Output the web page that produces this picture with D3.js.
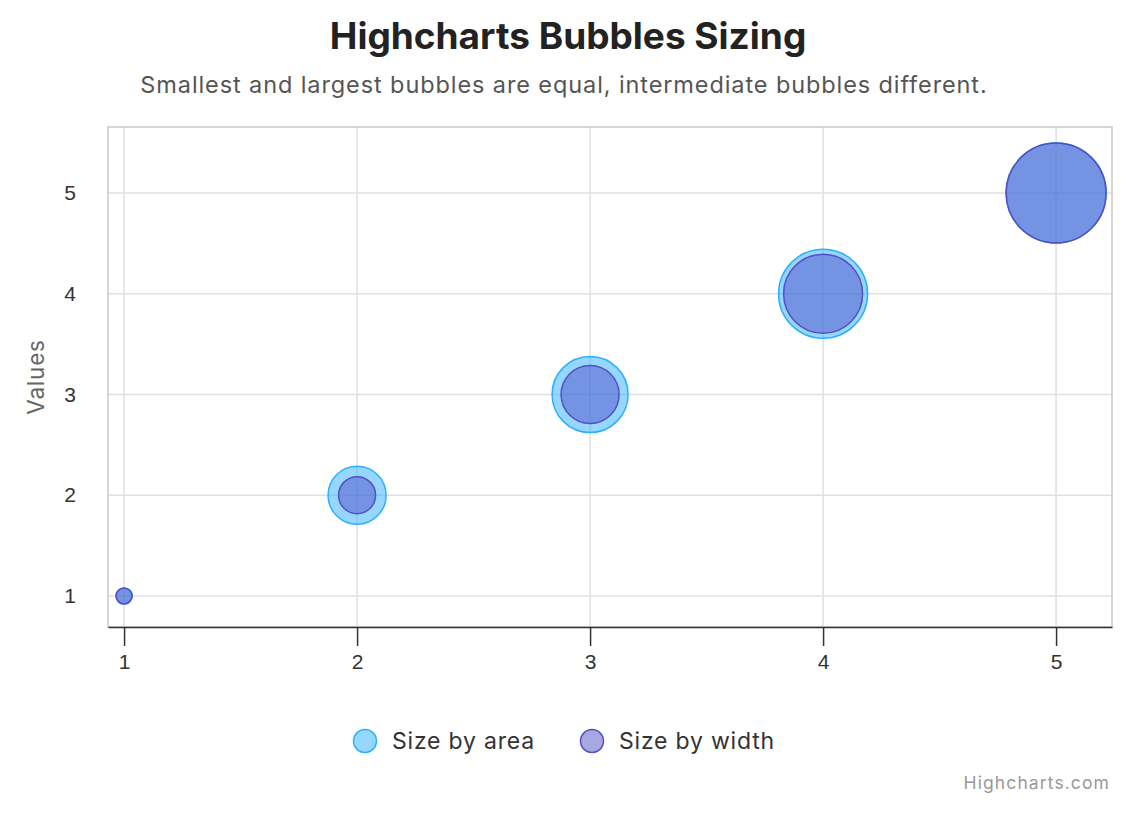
<!DOCTYPE html>
<html>
<head>
<meta charset="utf-8">
<script src="https://cdn.jsdelivr.net/npm/d3@7"></script>
<style>
  body { margin: 0; background: #fff; }
  svg { font-family: Inter, "Noto Sans", sans-serif; }
</style>
</head>
<body>
<svg id="chart" width="1134" height="818"></svg>
<script>
// data
const xValues = [1, 2, 3, 4, 5];
const areaY = [1, 2, 3, 4, 5];
const areaZ = [1, 2, 3, 4, 5];
const widthY = [1, 2, 3, 4, 5];
const widthZ = [1, 2, 3, 4, 5];
const seriesNames = ["Size by area", "Size by width"];
const xTicks = [1, 2, 3, 4, 5];
const yTicks = [1, 2, 3, 4, 5];

const svg = d3.select("#chart");
const width = 1134, height = 818;
const margin = { top: 127, right: 22, bottom: 191, left: 108 };
const plotW = width - margin.left - margin.right;
const plotH = height - margin.top - margin.bottom;

const xScale = d3.scaleLinear().domain([0.931, 5.24]).range([margin.left, margin.left + plotW]);
const yScale = d3.scaleLinear().domain([0.692, 5.655]).range([margin.top + plotH, margin.top]);

// bubble size: min/max diameter, highcharts style
const minSize = 16;
const maxSize = Math.min(plotW, plotH) * 0.2;
const zExtent = d3.extent(areaZ.concat(widthZ));
const zPos = d3.scaleLinear().domain(zExtent).range([0, 1]);
const areaSize = d3.scaleSqrt().domain([0, 1]).range([minSize, maxSize]);
const widthSize = d3.scaleLinear().domain([0, 1]).range([minSize, maxSize]);

const colors = ["#2caffe", "#544fc5"];

// title
svg.append("text")
  .attr("x", width / 2 + 1).attr("y", 49)
  .attr("text-anchor", "middle")
  .attr("font-size", 37).attr("font-weight", "bold")
  .attr("fill", "#222")
  .text("Highcharts Bubbles Sizing");

svg.append("text")
  .attr("x", width / 2 - 3).attr("y", 93)
  .attr("text-anchor", "middle")
  .attr("font-size", 23.5).attr("letter-spacing", 0.9)
  .attr("fill", "#555")
  .text("Smallest and largest bubbles are equal, intermediate bubbles different.");

// grid
const g_grid = svg.append("g");
g_grid.selectAll("line.vx").data(xTicks).enter().append("line")
  .attr("x1", d => xScale(d)).attr("x2", d => xScale(d))
  .attr("y1", margin.top).attr("y2", margin.top + plotH)
  .attr("stroke", "#e0e0e0").attr("stroke-width", 1.5);
g_grid.selectAll("line.hy").data(yTicks).enter().append("line")
  .attr("y1", d => yScale(d)).attr("y2", d => yScale(d))
  .attr("x1", margin.left).attr("x2", margin.left + plotW)
  .attr("stroke", "#e0e0e0").attr("stroke-width", 1.5);

// plot border
svg.append("rect")
  .attr("x", margin.left).attr("y", margin.top)
  .attr("width", plotW).attr("height", plotH)
  .attr("fill", "none").attr("stroke", "#c8c8c8").attr("stroke-width", 1.5);

// bubbles
const areaData = xValues.map((x, i) => ({ x: x, y: areaY[i], z: areaZ[i] }));
const widthData = xValues.map((x, i) => ({ x: x, y: widthY[i], z: widthZ[i] }));

const g_bubbles = svg.append("g");
g_bubbles.selectAll("circle.area").data(areaData).enter().append("circle")
  .attr("cx", d => xScale(d.x)).attr("cy", d => yScale(d.y))
  .attr("r", d => Math.ceil(areaSize(zPos(d.z))) / 2)
  .attr("fill", colors[0]).attr("fill-opacity", 0.5)
  .attr("stroke", colors[0]).attr("stroke-width", 1.5);
g_bubbles.selectAll("circle.width").data(widthData).enter().append("circle")
  .attr("cx", d => xScale(d.x)).attr("cy", d => yScale(d.y))
  .attr("r", d => Math.ceil(widthSize(zPos(d.z))) / 2)
  .attr("fill", colors[1]).attr("fill-opacity", 0.5)
  .attr("stroke", colors[1]).attr("stroke-width", 1.5);

// x axis
const xAxis = d3.axisBottom(xScale).tickValues(xTicks).tickSize(19).tickSizeOuter(0).tickPadding(8).tickFormat(d3.format("d"));
const g_x = svg.append("g")
  .attr("transform", `translate(0, ${margin.top + plotH})`)
  .call(xAxis);
g_x.select(".domain").attr("stroke", "#333").attr("stroke-width", 1.5);
g_x.selectAll(".tick line").attr("stroke", "#333").attr("stroke-width", 1.5);
g_x.selectAll(".tick text").attr("font-size", 21).attr("fill", "#333").attr("font-family", null);

// y axis
const yAxis = d3.axisLeft(yScale).tickValues(yTicks).tickSize(0).tickPadding(32).tickFormat(d3.format("d"));
const g_y = svg.append("g")
  .attr("transform", `translate(${margin.left}, 0)`)
  .call(yAxis);
g_y.select(".domain").remove();
g_y.selectAll(".tick text").attr("font-size", 21).attr("fill", "#333").attr("font-family", null);

svg.append("text")
  .attr("transform", `translate(44, ${margin.top + plotH / 2}) rotate(-90)`)
  .attr("text-anchor", "middle")
  .attr("font-size", 22.5).attr("letter-spacing", 0.8).attr("fill", "#666")
  .text("Values");

// legend
const legendItems = [
  { name: seriesNames[0], color: colors[0], cx: 365, tx: 392 },
  { name: seriesNames[1], color: colors[1], cx: 592, tx: 619 }
];
const g_legend = svg.append("g");
const items = g_legend.selectAll("g").data(legendItems).enter().append("g");
items.append("circle")
  .attr("cx", d => d.cx).attr("cy", 741).attr("r", 11.5)
  .attr("fill", d => d.color).attr("fill-opacity", 0.5)
  .attr("stroke", d => d.color).attr("stroke-width", 1.5);
items.append("text")
  .attr("x", d => d.tx).attr("y", 749)
  .attr("font-size", 23).attr("letter-spacing", 0.8).attr("fill", "#333")
  .text(d => d.name);

// credits
svg.append("text")
  .attr("x", 1110).attr("y", 789)
  .attr("text-anchor", "end")
  .attr("font-size", 17.5).attr("letter-spacing", 1.1).attr("fill", "#999")
  .text("Highcharts.com");
</script>
</body>
</html>
